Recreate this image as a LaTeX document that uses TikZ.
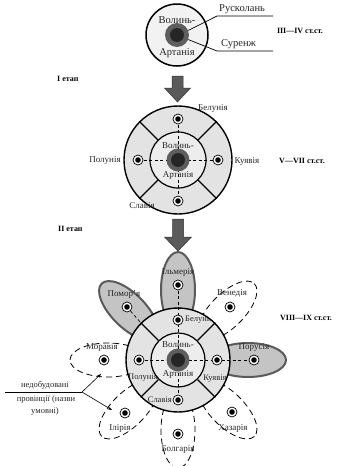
\documentclass[tikz,border=0pt]{standalone}
\usepackage{fontspec}
\setmainfont{Liberation Serif}
\usetikzlibrary{arrows.meta,calc}
\definecolor{ringgray}{HTML}{E3E3E3}
\definecolor{discgray}{HTML}{EDEDED}
\definecolor{topfill}{HTML}{F2F2F2}
\definecolor{petalgray}{HTML}{C4C4C4}
\definecolor{petaledge}{HTML}{5A5A5A}
\definecolor{core1}{HTML}{5E5E5E}
\definecolor{core2}{HTML}{262626}
\definecolor{arrowgray}{HTML}{5A5A5A}
\tikzset{
  lbl/.style={font=\fontsize{9}{10}\selectfont, text=black!85, inner sep=0pt},
  big/.style={font=\fontsize{10.5}{11}\selectfont, text=black!85, inner sep=0pt},
  rlbl/.style={font=\fontsize{8.5}{9}\selectfont, text=black!85, inner sep=0pt},
  era/.style={font=\bfseries\fontsize{8}{9}\selectfont, inner sep=0pt},
  mk/.style={circle, draw, fill=white, minimum size=10pt, inner sep=0pt, line width=0.7pt,
    path picture={\fill[black] (path picture bounding box.center) circle (2.8pt);}},
  core/.style={circle, fill=core1, minimum size=23pt, inner sep=0pt,
    path picture={\fill[core2] (path picture bounding box.center) circle (7pt);}},
  ring/.style={circle, draw, line width=1.4pt, fill=ringgray, inner sep=0pt},
  disc/.style={circle, draw, line width=1.2pt, fill=discgray, inner sep=0pt},
  sep/.style={line width=1.2pt},
  dsh/.style={dash pattern=on 3pt off 2.5pt, line width=0.7pt},
  petal/.style={fill=petalgray, draw=petaledge, line width=2pt},
  dpetal/.style={draw=black, line width=0.8pt, dash pattern=on 6pt off 4pt},
  blockarrow/.style={fill=arrowgray, draw=black!80, line width=0.5pt},
  note/.style={-{Stealth[length=4pt,width=3pt]}, line width=0.6pt}
}
\begin{document}
\begin{tikzpicture}[x=1pt,y=-1pt]
\useasboundingbox (0,0) rectangle (337,466);

% ---------- stage 0 (top) ----------
\node[disc, fill=topfill, line width=1.5pt, minimum size=62pt] (t) at (177,35) {};
\node[core, minimum size=24pt] (tc) at (177,35) {};
\node[big] (tv) at (177,20) {Волинь-};
\node[big] (ta) at (177,53) {Артанія};
\coordinate (rk) at (217,16);
\coordinate (rkend) at (273,16);
\coordinate (su) at (217,51);
\coordinate (suend) at (273,51);
\draw[line width=0.7pt] (tc.22) -- (rk) -- (rkend);
\draw[line width=0.7pt] (tc.-22) -- (su) -- (suend);
\node[big, anchor=south west] (rus) at (219,14) {Русколань};
\node[big, anchor=south west] (sur) at (221,49) {Суренж};
\node[era] (e1) at (300,31) {III—IV ст.ст.};
\node[era, anchor=west] (st1) at (57,79) {I етап};

% arrow 1
\filldraw[blockarrow] (172,76) -- (183,76) -- (183,88) -- (190.5,88) -- (177.5,102) -- (164.5,88) -- (172,88) -- cycle;

% ---------- stage I ----------
\node[ring, minimum size=108pt] (o2) at (178,160) {};
\node[disc, minimum size=56pt] (i2) at (178,160) {};
\foreach \a in {45,135,225,315} \draw[sep] (i2.\a) -- (o2.\a);
\coordinate (b2) at (178,119);
\coordinate (p2) at (138,160);
\coordinate (k2) at (218,160);
\coordinate (s2) at (178,201);
\draw[dsh] (b2) -- (s2);
\draw[dsh] (p2) -- (k2);
\node[core] (c2) at (178,160) {};
\node[mk] (b2m) at (b2) {};
\node[mk] (p2m) at (p2) {};
\node[mk] (k2m) at (k2) {};
\node[mk] (s2m) at (s2) {};
\node[lbl] (b2l) at (213,108) {Белунія};
\node[lbl] (p2l) at (105,160) {Полунія};
\node[lbl] (k2l) at (247,161) {Куявія};
\node[lbl] (s2l) at (142,206) {Славія};
\node[lbl] (v2) at (178,146) {Волинь-};
\node[lbl] (a2) at (178,175) {Артанія};
\node[era] (e2) at (302,161) {V—VII ст.ст.};
\node[era, anchor=west] (st2) at (58,229) {II етап};

% arrow 2
\filldraw[blockarrow] (172.5,219) -- (183.5,219) -- (183.5,237) -- (191.5,237) -- (178,251) -- (164.5,237) -- (172.5,237) -- cycle;

% ---------- stage II ----------
% petals
\begin{scope}[shift={(178,360)}, rotate=-270] \draw[petal] (70,0) ellipse (38 and 17); \end{scope}
\begin{scope}[shift={(178,360)}, rotate=-225] \draw[petal] (70,0) ellipse (38 and 17); \end{scope}
\begin{scope}[shift={(178,360)}, rotate=0] \draw[petal] (70,0) ellipse (38 and 17); \end{scope}
\foreach \t in {315,180,135,90,45}{
  \begin{scope}[shift={(178,360)}, rotate=-\t] \draw[dpetal] (70,0) ellipse (38 and 17); \end{scope}
}
\node[ring, minimum size=104pt] (o3) at (178,360) {};
\begin{scope}
  \clip (178,360) circle (51.5);
  \node[rlbl, anchor=west] (b3l) at (185,320) {Белунія};
  \node[rlbl, anchor=west] (p3l) at (128,378) {Полунія};
\end{scope}
\node[disc, minimum size=54pt] (i3) at (178,360) {};
\foreach \a in {45,135,225,315} \draw[sep] (i3.\a) -- (o3.\a);
\coordinate (b3) at (178,320);
\coordinate (p3) at (139,360);
\coordinate (k3) at (217,360);
\coordinate (s3) at (178,400);
\coordinate (il) at (178,285);
\coordinate (pm) at (127,307);
\coordinate (ve) at (230,307);
\coordinate (pr) at (254,360);
\coordinate (mo) at (104,360);
\coordinate (ir) at (125,413);
\coordinate (bo) at (178,434);
\coordinate (kh) at (232,412);
\draw[dsh] (il) -- (s3);
\draw[dsh] (p3) -- (pr);
\draw[dsh] (pm) -- (o3.135);
\node[core] (c3) at (178,360) {};
\foreach \m in {b3,p3,k3,s3,il,pm,ve,pr,mo,ir,bo,kh} \node[mk] (\m m) at (\m) {};
\node[rlbl] (k3l) at (215,379) {Куявія};
\node[rlbl, anchor=east] (s3l) at (172,400) {Славія};
\node[lbl] (v3) at (178,345) {Волинь-};
\node[lbl] (a3) at (178,374) {Артанія};
\node[lbl] (ill) at (178,272) {Ільмерія};
\node[lbl] (pml) at (124,294) {Помор'я};
\node[lbl] (vel) at (232,293) {Венедія};
\node[lbl] (mol) at (102,347) {Моравія};
\node[lbl] (prl) at (254,347) {Порусія};
\node[lbl] (irl) at (120,428) {Ілірія};
\node[lbl] (bol) at (178,449) {Болгарія};
\node[lbl] (khl) at (233,428) {Хазарія};
\node[era] (e3) at (306,318) {VIII—IX ст.ст.};

% annotation
\node[rlbl] (n1) at (45,385) {недобудовані};
\node[rlbl] (n2) at (46,399) {провінції (назви};
\node[rlbl] (n3) at (45,411) {умовні)};
\coordinate (ls) at (5,392);
\coordinate (j) at (82,392);
\coordinate (ua) at (101,374);
\coordinate (la) at (112,410);
\draw[line width=0.6pt] (ls) -- (j);
\draw[note] (j) -- (ua);
\draw[note] (j) -- (la);
\end{tikzpicture}
\end{document}
